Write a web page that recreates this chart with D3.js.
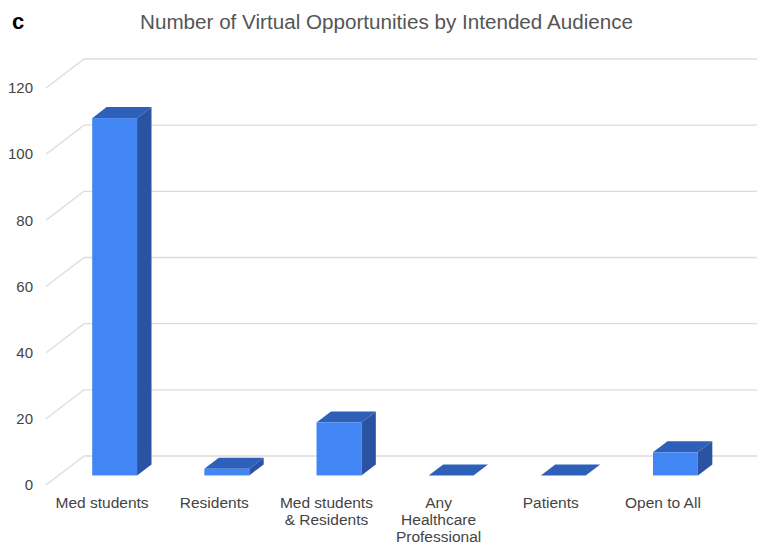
<!DOCTYPE html>
<html>
<head>
<meta charset="utf-8">
<script src="https://cdn.jsdelivr.net/npm/d3@7"></script>
<style>
  html, body { margin: 0; padding: 0; background: #fff; }
  svg { display: block; font-family: "Liberation Sans", Arial, sans-serif; }
</style>
</head>
<body>
<svg id="chart" width="763" height="547"></svg>
<script>
// Intended audience categories and number of virtual opportunities
const categories = ["Med students", "Residents", "Med students & Residents", "Any Healthcare Professional", "Patients", "Open to All"];
const categoryLines = [["Med students"], ["Residents"], ["Med students", "& Residents"], ["Any", "Healthcare", "Professional"], ["Patients"], ["Open to All"]];
const counts = [108, 2, 16, 0, 0, 7];
const yTicks = [0, 20, 40, 60, 80, 100, 120];

const svg = d3.select("#chart");

// Front plane of the 3D box; depth is projected as an up-right shift
const frontLeft = 46, frontRight = 719;
const depthDX = 38, depthDY = 29;
const barFront = 0.33, barBack = 0.71;

const x = d3.scaleBand().domain(categories).range([frontLeft, frontRight]).paddingInner(0).paddingOuter(0);
const y = d3.scaleLinear().domain([0, 120]).range([485, 88]);

const proj = (px, v, d) => [px + depthDX * d, y(v) - depthDY * d];
const poly = pts => "M" + pts.map(p => p.join(",")).join("L") + "Z";

// Back wall gridlines and left-side depth lines
const grid = svg.append("g").attr("stroke", "#dcdcdc").attr("stroke-width", 1.3).attr("fill", "none");
yTicks.forEach(v => {
  const a = proj(frontLeft, v, 1), b = proj(frontRight, v, 1), c = proj(frontLeft, v, 0);
  grid.append("line").attr("x1", a[0]).attr("y1", a[1]).attr("x2", b[0]).attr("y2", b[1]);
  grid.append("line").attr("x1", c[0]).attr("y1", c[1]).attr("x2", a[0]).attr("y2", a[1]);
});

// Value axis labels on the front plane
const yAxis = svg.append("g")
  .attr("transform", `translate(${33 + 3},0)`)
  .call(d3.axisLeft(y).tickValues(yTicks).tickSize(0).tickPadding(3));
yAxis.select(".domain").remove();
yAxis.selectAll("text")
  .attr("fill", "#444")
  .style("font-size", "15px")
  .style("font-family", "Liberation Sans, Arial, sans-serif");

// 3D columns
const bars = svg.append("g");
categories.forEach((cat, i) => {
  const v = counts[i];
  const bw = x.bandwidth() * 0.4;
  const xl = x(cat) + (x.bandwidth() - bw) / 2, xr = xl + bw;
  const g = bars.append("g");
  // top face
  g.append("path")
    .attr("d", poly([proj(xl, v, barFront), proj(xr, v, barFront), proj(xr, v, barBack), proj(xl, v, barBack)]))
    .attr("fill", "#2e60ba");
  if (v > 0) {
    // right side face
    g.append("path")
      .attr("d", poly([proj(xr, 0, barFront), proj(xr, v, barFront), proj(xr, v, barBack), proj(xr, 0, barBack)]))
      .attr("fill", "#2a53a2");
    // front face
    const p0 = proj(xl, v, barFront), p1 = proj(xr, 0, barFront);
    g.append("rect")
      .attr("x", p0[0]).attr("y", p0[1])
      .attr("width", p1[0] - p0[0]).attr("height", p1[1] - p0[1])
      .attr("fill", "#4285f4");
  }
});

// Category labels under each column
const labels = svg.append("g")
  .attr("fill", "#444")
  .style("font-size", "15.5px")
  .attr("text-anchor", "middle");
categories.forEach((cat, i) => {
  const t = labels.append("text")
    .attr("x", x(cat) + x.bandwidth() / 2)
    .attr("y", 508);
  categoryLines[i].forEach((line, j) => {
    t.append("tspan")
      .attr("x", x(cat) + x.bandwidth() / 2)
      .attr("dy", j === 0 ? 0 : 17)
      .text(line);
  });
});

// Title and panel letter
svg.append("text")
  .attr("x", 386.5).attr("y", 29)
  .attr("text-anchor", "middle")
  .attr("fill", "#555")
  .style("font-size", "20px")
  .attr("textLength", 493)
  .attr("lengthAdjust", "spacingAndGlyphs")
  .text("Number of Virtual Opportunities by Intended Audience");

svg.append("text")
  .attr("x", 12).attr("y", 29)
  .attr("fill", "#000")
  .style("font-size", "22px")
  .style("font-weight", "bold")
  .text("c");
</script>
</body>
</html>
